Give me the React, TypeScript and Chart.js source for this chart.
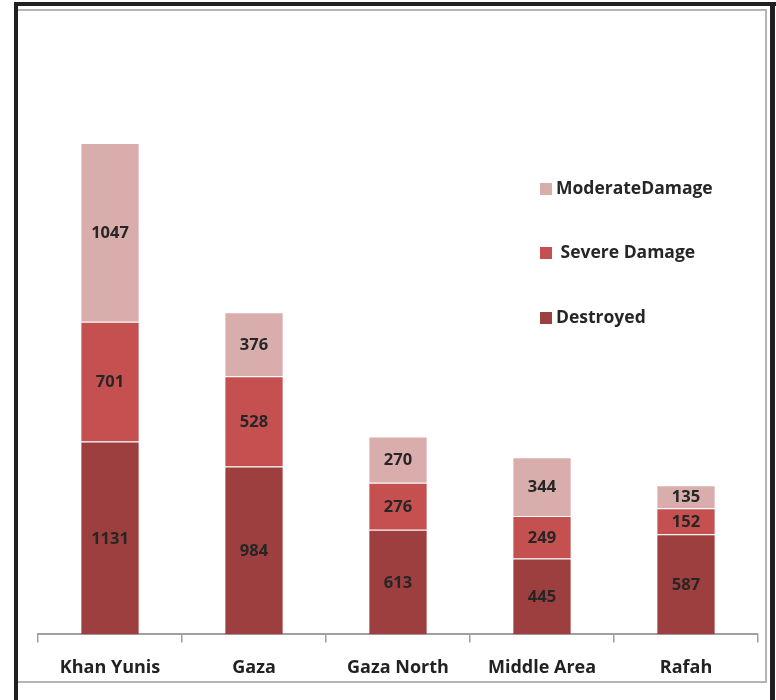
import React, { useEffect, useRef } from "react";
import { Chart, registerables } from "chart.js";

Chart.register(...registerables);

const categories = ["Khan Yunis", "Gaza", "Gaza North", "Middle Area", "Rafah"];
const destroyed = [1131, 984, 613, 445, 587];
const severeDamage = [701, 528, 276, 249, 152];
const moderateDamage = [1047, 376, 270, 344, 135];
const seriesLabels = ["Destroyed", " Severe Damage", "ModerateDamage"];
const seriesColors = ["#9C3F3E", "#C4504F", "#D9ADAC"];
const yMax = 3600;

const FONT = "'Open Sans', sans-serif";

const valueLabels = {
  id: "valueLabels",
  afterDatasetsDraw(chart: any) {
    const ctx = chart.ctx;
    ctx.save();
    ctx.font = `bold 16.5px ${FONT}`;
    ctx.fillStyle = "#262626";
    ctx.textAlign = "center";
    ctx.textBaseline = "middle";
    chart.data.datasets.forEach((ds: any, i: number) => {
      const meta = chart.getDatasetMeta(i);
      meta.data.forEach((bar: any, j: number) => {
        const yc = (bar.y + bar.base) / 2;
        ctx.fillText(String(ds.data[j]), bar.x, yc + 1);
      });
    });
    ctx.restore();
  },
};

const sideLegend = {
  id: "sideLegend",
  afterDraw(chart: any) {
    const ctx = chart.ctx;
    const items = chart.data.datasets.slice().reverse();
    const ys = [189, 253, 318];
    ctx.save();
    ctx.font = `bold 17.5px ${FONT}`;
    ctx.textBaseline = "middle";
    ctx.textAlign = "left";
    items.forEach((ds: any, k: number) => {
      const y = ys[k];
      ctx.fillStyle = ds.backgroundColor;
      ctx.fillRect(540, y - 6, 12, 12);
      ctx.fillStyle = "#262626";
      ctx.fillText(ds.label, 556, y);
    });
    ctx.restore();
  },
};

export default function App() {
  const ref = useRef<HTMLCanvasElement>(null);
  useEffect(() => {
    if (!ref.current) return;
    const data = [destroyed, severeDamage, moderateDamage];
    const chart = new Chart(ref.current, {
      type: "bar",
      data: {
        labels: categories,
        datasets: data.map((d, i) => ({
          label: seriesLabels[i],
          data: d,
          backgroundColor: seriesColors[i],
          borderColor: "rgba(255,255,255,0.55)",
          borderWidth: { top: 1, left: 0, right: 0, bottom: 0 },
          borderSkipped: false,
          barPercentage: 0.4,
          categoryPercentage: 1,
        })),
      },
      options: {
        responsive: false,
        animation: false,
        devicePixelRatio: 1,
        layout: { padding: { left: 38, right: 18, top: 20, bottom: 6 } },
        plugins: { legend: { display: false }, tooltip: { enabled: false } },
        scales: {
          x: {
            stacked: true,
            grid: {
              drawOnChartArea: false,
              drawTicks: true,
              tickLength: 8,
              color: "#a0a0a0",
              lineWidth: 1.5,
              offset: true,
            },
            border: { display: true, color: "#a0a0a0", width: 2 },
            ticks: {
              color: "#222222",
              font: { family: FONT, size: 18, weight: "bold" },
              padding: 15,
              maxRotation: 0,
            },
          },
          y: {
            stacked: true,
            display: false,
            min: 0,
            max: yMax,
          },
        },
      },
      plugins: [valueLabels, sideLegend],
    });
    return () => chart.destroy();
  }, []);

  return (
    <div style={{ position: "fixed", left: 0, top: 0, width: 776, height: 700, background: "#fff" }}>
      <canvas ref={ref} width={776} height={700} style={{ position: "absolute", left: 0, top: 0 }} />
      <div style={{ position: "absolute", left: 16, top: 9, width: 747, height: 670, border: "2px solid #b4b4b4", pointerEvents: "none" }} />
      <div style={{ position: "absolute", left: 14, top: 2, width: 762, height: 4, background: "#231f20" }} />
      <div style={{ position: "absolute", left: 14, top: 2, width: 4, height: 698, background: "#231f20" }} />
      <div style={{ position: "absolute", left: 770, top: 2, width: 5, height: 698, background: "#231f20" }} />
    </div>
  );
}
